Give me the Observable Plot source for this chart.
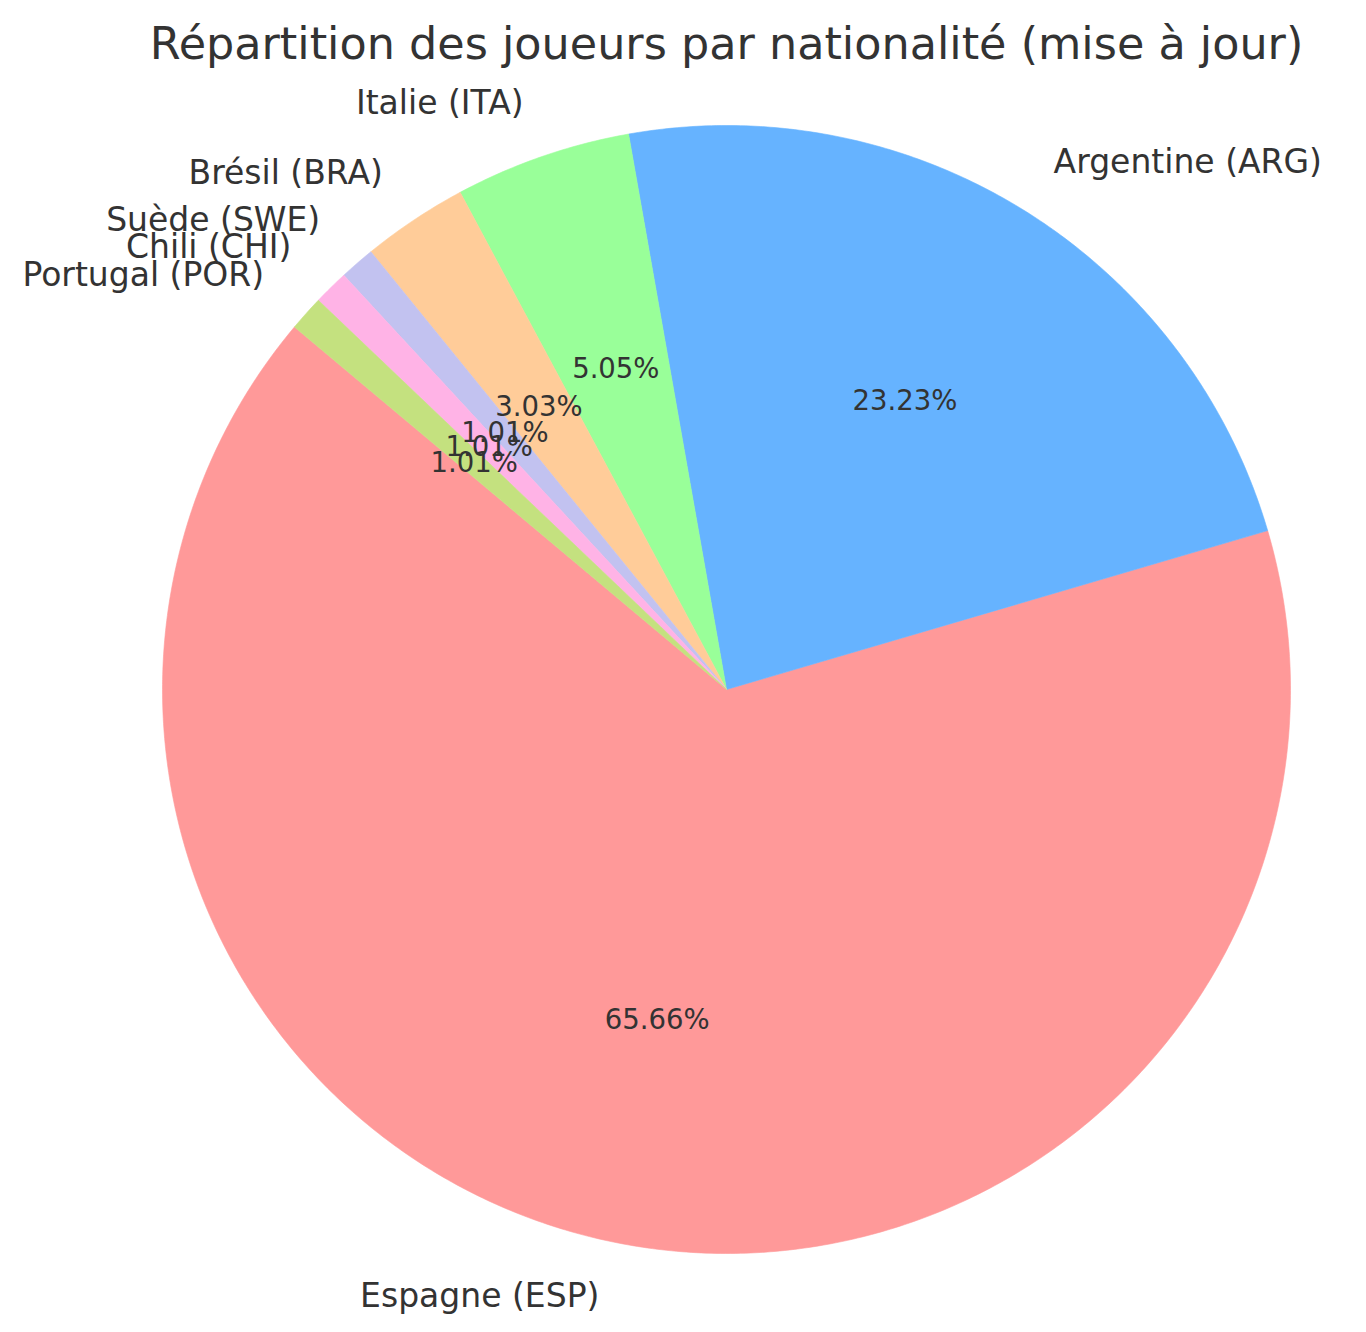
<!DOCTYPE html>
<html><head><meta charset="utf-8">
<script src="https://cdn.jsdelivr.net/npm/d3@7"></script>
<script src="https://cdn.jsdelivr.net/npm/@observablehq/plot@0.6"></script>
<style>body{margin:0;background:#fff}</style>
</head><body><div id="chart"></div>
<script>
const countries = ["Espagne (ESP)", "Argentine (ARG)", "Italie (ITA)", "Brésil (BRA)", "Suède (SWE)", "Chili (CHI)", "Portugal (POR)"];
const players = [65, 23, 5, 3, 1, 1, 1];
const colors = ["#ff9999", "#66b3ff", "#99ff99", "#ffcc99", "#c2c2f0", "#ffb3e6", "#c4e17f"];
const title = "Répartition des joueurs par nationalité (mise à jour)";
const startAngle = 140;

const W = 1366, H = 1332, cx = 726, cy = 689, R = 564;
const total = d3.sum(players);
let acc = startAngle;
const slices = countries.map((name, i) => {
  const span = players[i] / total * 360;
  const s = {name, value: players[i], color: colors[i], a0: acc, a1: acc + span, mid: acc + span / 2,
    pct: (players[i] / total * 100).toFixed(2) + "%"};
  acc += span;
  return s;
});
const rad = d => d * Math.PI / 180;
function polygon(s) {
  const pts = [{x: 0, y: 0}];
  const n = Math.max(2, Math.ceil((s.a1 - s.a0) / 0.5));
  for (let k = 0; k <= n; k++) {
    const a = rad(s.a0 + (s.a1 - s.a0) * k / n);
    pts.push({x: Math.cos(a), y: Math.sin(a)});
  }
  pts.push({x: 0, y: 0});
  return pts;
}
const labels = slices.map(s => ({name: s.name, x: 1.1 * Math.cos(rad(s.mid)), y: 1.1 * Math.sin(rad(s.mid))}));
const pcts = slices.map(s => ({pct: s.pct, x: 0.6 * Math.cos(rad(s.mid)), y: 0.6 * Math.sin(rad(s.mid))}));
const font = "DejaVu Sans";
const txt = "#333333";

const marks = [];
for (const s of slices) {
  marks.push(Plot.line(polygon(s), {x: "x", y: "y", fill: s.color, stroke: s.color, strokeWidth: 0.6, curve: "linear"}));
}
marks.push(Plot.text(pcts, {x: "x", y: "y", text: "pct", fontSize: 27.5, fill: txt, fontFamily: font, lineAnchor: "middle", dy: -1}));
marks.push(Plot.text(labels.filter(d => d.x >= 0), {x: "x", y: "y", text: "name", textAnchor: "start", fontSize: 33, fill: txt, fontFamily: font, lineAnchor: "middle"}));
marks.push(Plot.text(labels.filter(d => d.x < 0), {x: "x", y: "y", text: "name", textAnchor: "end", fontSize: 33, fill: txt, fontFamily: font, lineAnchor: "middle"}));
marks.push(Plot.text([{x: 0, t: title}], {x: "x", text: "t", frameAnchor: "top", lineAnchor: "top", dy: 27, fontSize: 44.5, fill: txt, fontFamily: font}));

const chart = Plot.plot({
  width: W, height: H,
  margin: 0,
  x: {domain: [-cx / R, (W - cx) / R], range: [0, W], axis: null},
  y: {domain: [-(H - cy) / R, cy / R], range: [H, 0], axis: null},
  style: {background: "#fff"},
  marks
});
document.getElementById("chart").appendChild(chart);
</script>
</body></html>
